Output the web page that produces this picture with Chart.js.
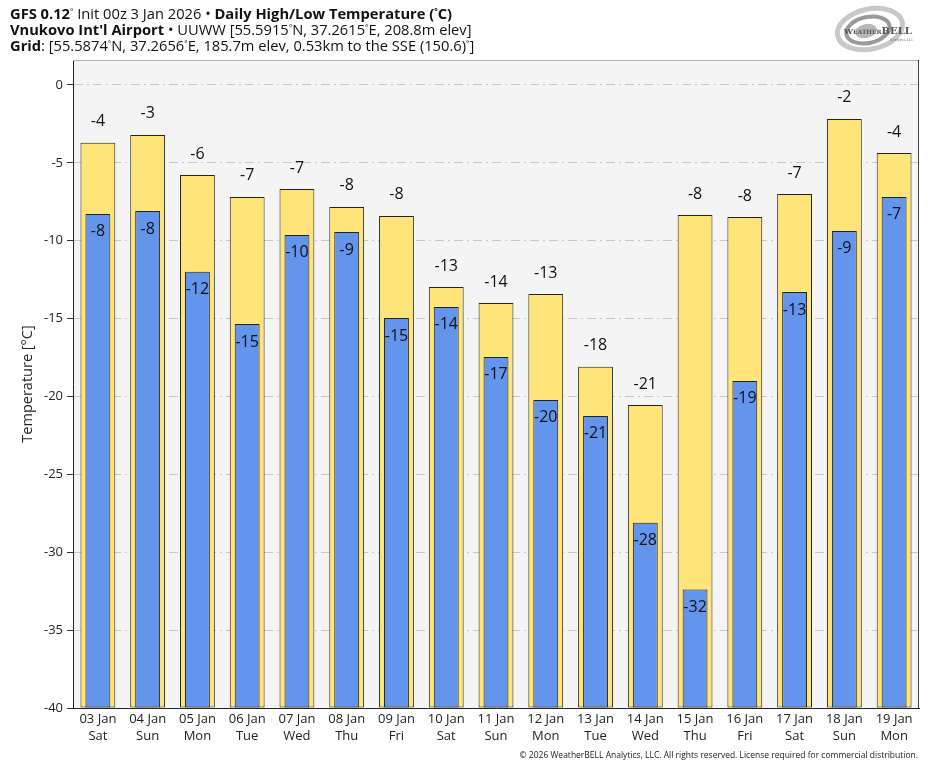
<!DOCTYPE html>
<html>
<head>
<meta charset="utf-8">
<script src="https://cdn.jsdelivr.net/npm/chart.js@4.4.1/dist/chart.umd.min.js"></script>
<style>
    body { margin: 0; background: #fff; font-family: "Open Sans", "Noto Sans", sans-serif; }
    #wrap { position: relative; width: 935px; height: 768px; }
    #chart-temps { position: absolute; left: 0; top: 0; }
    #title { position: absolute; left: 10px; top: 5px; font-size: 14.7px; line-height: 16px; color: #111; }
    #title b { font-weight: 700; }
    #title sup { font-size: 8px; vertical-align: 5px; line-height: 0; }
    #footer { position: absolute; right: 17px; top: 749px; font-size: 8.5px; color: #222; }
    #logo { position: absolute; left: 832px; top: 4px; }
</style>
</head>
<body>
<div id="wrap">
    <canvas id="chart-temps" width="935" height="768"></canvas>
    <div id="title">
        <b>GFS 0.12</b><sup>°</sup> Init 00z 3 Jan 2026 • <b>Daily High/Low Temperature (<sup>°</sup>C)</b><br>
        <b>Vnukovo Int'l Airport</b> • UUWW [55.5915<sup>°</sup>N, 37.2615<sup>°</sup>E, 208.8m elev]<br>
        <b>Grid</b>: [55.5874<sup>°</sup>N, 37.2656<sup>°</sup>E, 185.7m elev, 0.53km to the SSE (150.6)<sup>°</sup>]
    </div>
    <svg id="logo" width="90" height="50" viewBox="0 0 90 50">
        <ellipse cx="38" cy="25" rx="33" ry="20" fill="none" stroke="#c8c8c8" stroke-width="5" transform="rotate(-12 38 25)"/>
        <ellipse cx="36" cy="26" rx="22" ry="13" fill="none" stroke="#9a9a9a" stroke-width="4" transform="rotate(-12 36 26)"/>
        <ellipse cx="34" cy="27" rx="11" ry="7" fill="#b8b8b8" transform="rotate(-12 34 27)"/>
        <text x="12" y="30" font-family="DejaVu Serif, serif" font-size="8" font-weight="700" fill="#555">W<tspan font-size="6">EATHER</tspan><tspan font-size="10">BELL</tspan></text>
        <text x="58" y="37" font-family="DejaVu Sans, sans-serif" font-size="3.5" fill="#777">Analytics LLC</text>
    </svg>
    <div id="footer">© 2026 WeatherBELL Analytics, LLC. All rights reserved. License required for commercial distribution.</div>
</div>
<script>
const days = ['03 Jan', '04 Jan', '05 Jan', '06 Jan', '07 Jan', '08 Jan', '09 Jan', '10 Jan', '11 Jan',
    '12 Jan', '13 Jan', '14 Jan', '15 Jan', '16 Jan', '17 Jan', '18 Jan', '19 Jan']
const weekdays = ['Sat', 'Sun', 'Mon', 'Tue', 'Wed', 'Thu', 'Fri', 'Sat', 'Sun',
    'Mon', 'Tue', 'Wed', 'Thu', 'Fri', 'Sat', 'Sun', 'Mon']

const highs = [-3.72, -3.21, -5.78, -7.19, -6.68, -7.83, -8.41, -12.97, -14.0,
    -13.42, -18.1, -20.55, -8.35, -8.48, -7.0, -2.18, -4.37]
const lows = [-8.28, -8.09, -12.0, -15.35, -9.63, -9.44, -14.96, -14.25, -17.46,
    -20.22, -21.25, -28.1, -32.4, -19.0, -13.29, -9.37, -7.19]

const yTicks = [0, -5, -10, -15, -20, -25, -30, -35, -40]
const yMin = -40
const yMax = 1.6

const FONT = '"Open Sans", "Noto Sans", sans-serif'

const plotBackground = {
    id: 'plotBackground',
    beforeDraw(chart) {
        const { ctx, chartArea: a } = chart
        ctx.save()
        ctx.fillStyle = '#f4f4f4'
        ctx.fillRect(a.left, a.top, a.right - a.left, a.bottom - a.top)
        ctx.restore()
    },
    afterDraw(chart) {
        const { ctx, chartArea: a } = chart
        ctx.save()
        ctx.lineWidth = 1
        ctx.strokeStyle = '#b0b0b0'
        ctx.beginPath()
        ctx.moveTo(a.left, a.top + 0.5)
        ctx.lineTo(a.right, a.top + 0.5)
        ctx.stroke()
        ctx.strokeStyle = '#444'
        ctx.beginPath()
        ctx.moveTo(a.right - 0.5, a.top)
        ctx.lineTo(a.right - 0.5, a.bottom)
        ctx.stroke()
        ctx.restore()
    }
}

// value labels: highs above the yellow bar, lows inside the top of the blue bar
const barLabels = {
    id: 'barLabels',
    afterDatasetsDraw(chart) {
        const { ctx } = chart
        ctx.save()
        ctx.font = `16px ${FONT}`
        ctx.fillStyle = '#111'
        ctx.textAlign = 'center'
        ctx.textBaseline = 'middle'
        chart.getDatasetMeta(1).data.forEach((bar, i) => {
            ctx.fillText(Math.round(highs[i]), bar.x, bar.y - 21)
        })
        chart.getDatasetMeta(0).data.forEach((bar, i) => {
            ctx.fillText(Math.round(lows[i]), bar.x, bar.y + 18)
        })
        ctx.restore()
    }
}

const ctx = document.getElementById('chart-temps').getContext('2d')

const chart = new Chart(ctx, {
    type: 'bar',
    data: {
        labels: days.map((d, i) => [d, weekdays[i]]),
        datasets: [{
            label: 'Low',
            data: lows,
            base: yMin,
            grouped: false,
            barPercentage: 0.5,
            categoryPercentage: 1,
            backgroundColor: '#6495ed',
            borderColor: '#222',
            borderWidth: 1,
            borderSkipped: false
        }, {
            label: 'High',
            data: highs,
            base: yMin,
            grouped: false,
            barPercentage: 0.7,
            categoryPercentage: 1,
            backgroundColor: '#ffe47a',
            borderColor: '#222',
            borderWidth: 1,
            borderSkipped: false
        }]
    },
    options: {
        responsive: false,
        animation: false,
        devicePixelRatio: 1,
        layout: {
            padding: { top: 60, right: 16, bottom: 20, left: 0 }
        },
        plugins: {
            legend: { display: false },
            tooltip: { enabled: false }
        },
        scales: {
            x: {
                offset: true,
                grid: { display: false, drawTicks: false },
                border: { color: '#222', width: 1 },
                ticks: {
                    color: '#222',
                    padding: 3,
                    maxRotation: 0,
                    autoSkip: false,
                    font: { family: FONT, size: 13, lineHeight: 1.3 }
                },
                afterFit(scale) { scale.height = 40 }
            },
            y: {
                min: yMin,
                max: yMax,
                afterBuildTicks(scale) {
                    scale.ticks = yTicks.map(v => ({ value: v }))
                },
                grid: {
                    color: '#c8c8c8',
                    tickColor: '#333',
                    tickBorderDash: [],
                    tickLength: 6
                },
                border: { color: '#222', width: 1, dash: [9, 4, 2, 4] },
                ticks: {
                    color: '#222',
                    padding: 4,
                    font: { family: FONT, size: 13 }
                },
                title: {
                    display: true,
                    text: 'Temperature [°C]',
                    color: '#222',
                    padding: { top: 19, bottom: 0 },
                    font: { family: FONT, size: 14.5 }
                },
                afterFit(scale) { scale.width = 73 }
            }
        }
    },
    plugins: [plotBackground, barLabels]
})
</script>
</body>
</html>
